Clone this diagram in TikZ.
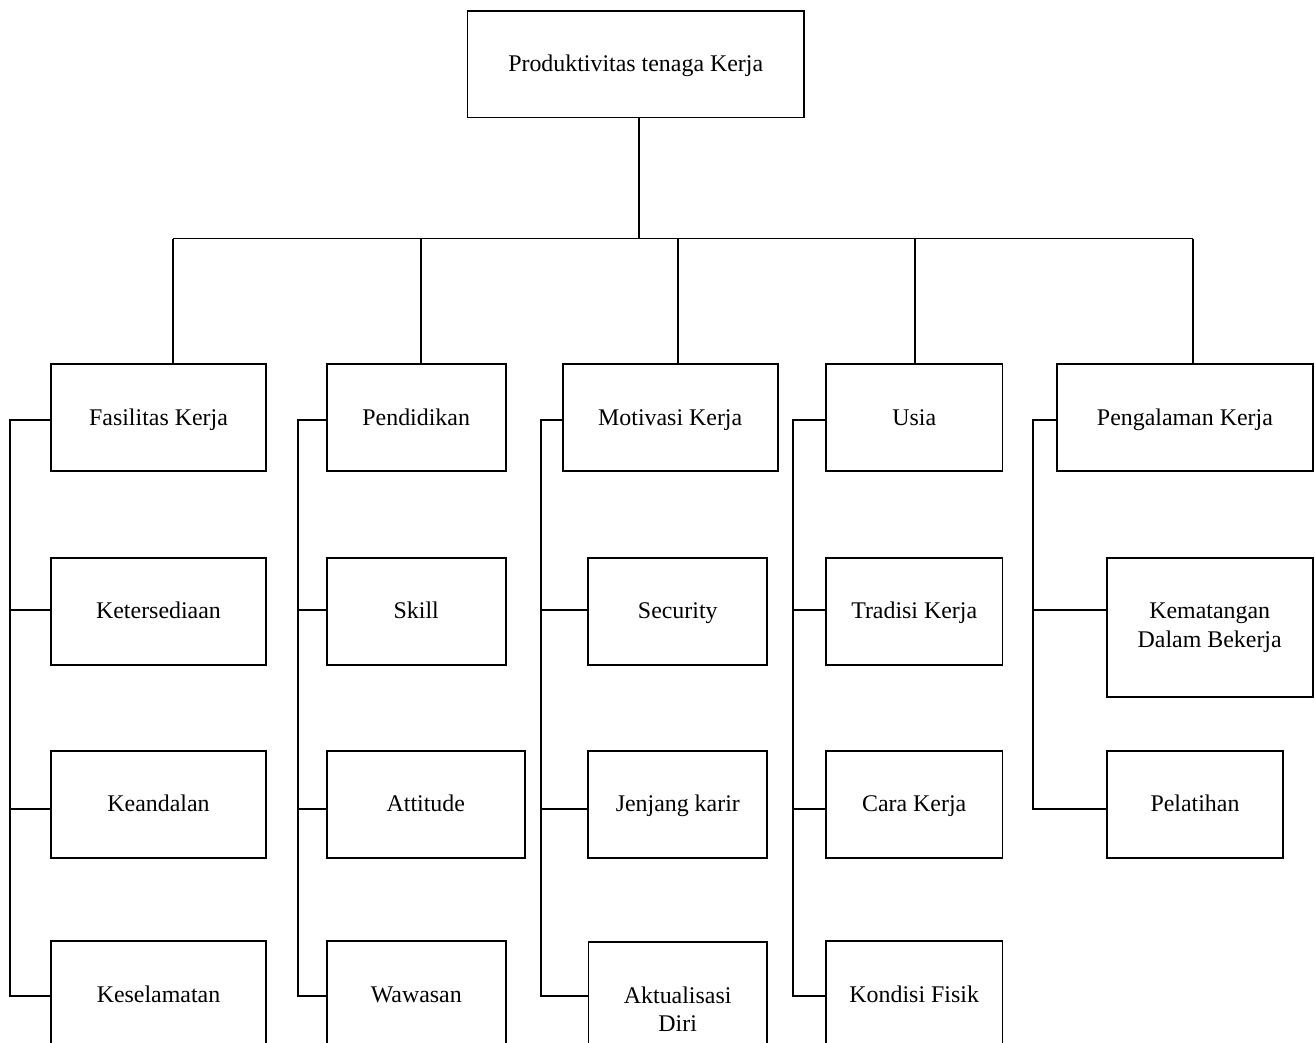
\documentclass[tikz,border=0pt]{standalone}
\usepackage{fontspec}
\setmainfont{Liberation Serif}
\newcommand\tstrut{\rule[-6pt]{0pt}{27pt}}
\begin{document}
\begin{tikzpicture}[x=1pt,y=-1pt,
  box/.style={draw, line width=1.7pt, inner sep=0pt, align=center,
    font=\fontsize{23.9}{28.5}\selectfont},
  wire/.style={line width=1.7pt, line join=miter}]
\clip (0,0) rectangle (1315,1042);
% top
\node[box, minimum width=336.7pt, minimum height=106.5pt] (top) at (635.7,64.25) {\tstrut Produktivitas tenaga Kerja};
% row 1
\node[box, minimum width=215pt, minimum height=106.4pt] (fas) at (158.5,417.5) {\tstrut Fasilitas Kerja};
\node[box, minimum width=179pt, minimum height=106.4pt] (pend) at (416.2,417.5) {\tstrut Pendidikan};
\node[box, minimum width=215pt, minimum height=106.4pt] (mot) at (670.2,417.5) {\tstrut Motivasi Kerja};
\node[box, minimum width=176.4pt, minimum height=106.4pt] (usia) at (914.2,417.5) {\tstrut Usia};
\node[box, minimum width=255.7pt, minimum height=106.4pt] (peng) at (1184.9,417.5) {\tstrut Pengalaman Kerja};
% row 2
\node[box, minimum width=215pt, minimum height=107pt] (ket) at (158.5,611.2) {\tstrut Ketersediaan};
\node[box, minimum width=179pt, minimum height=107pt] (skill) at (416.2,611.2) {\tstrut Skill};
\node[box, minimum width=179pt, minimum height=107pt] (sec) at (677.8,611.2) {\tstrut Security};
\node[box, minimum width=176.4pt, minimum height=107pt] (trad) at (914.2,611.2) {\tstrut Tradisi Kerja};
\node[box, minimum width=206pt, minimum height=139.6pt] (kem) at (1209.7,627.5) {\strut Kematangan\\\strut Dalam Bekerja};
% row 3
\node[box, minimum width=215pt, minimum height=107pt] (kea) at (158.5,804.2) {\tstrut Keandalan};
\node[box, minimum width=198.3pt, minimum height=107pt] (att) at (425.8,804.2) {\tstrut Attitude};
\node[box, minimum width=179pt, minimum height=107pt] (jen) at (677.8,804.2) {\tstrut Jenjang karir};
\node[box, minimum width=176.4pt, minimum height=107pt] (cara) at (914.2,804.2) {\tstrut Cara Kerja};
\node[box, minimum width=176.6pt, minimum height=107pt] (pel) at (1195,804.2) {\tstrut Pelatihan};
% row 4
\node[box, minimum width=215pt, minimum height=107pt] (kes) at (158.5,994.5) {\tstrut Keselamatan};
\node[box, minimum width=179.3pt, minimum height=107pt] (waw) at (416.3,994.5) {\tstrut Wawasan};
\node[box, minimum width=178.7pt, minimum height=140pt] (akt) at (677.7,1012) {\strut Aktualisasi\\\strut Diri};
\node[box, minimum width=176.4pt, minimum height=107pt] (kon) at (914.2,994.5) {\tstrut Kondisi Fisik};
% bus coordinates
\coordinate (t) at (639.3,238.5);
\coordinate (d1) at (173.3,238.5);
\coordinate (d2) at (420.7,238.5);
\coordinate (d3) at (678.3,238.5);
\coordinate (d4) at (915,238.5);
\coordinate (d5) at (1193.3,238.5);
% spine coordinates
\coordinate (s1) at (10,0);
\coordinate (s2) at (297.7,0);
\coordinate (s3) at (541.3,0);
\coordinate (s4) at (792.7,0);
\coordinate (s5) at (1033.3,0);
% branch rows
\coordinate (r1) at (0,420);
\coordinate (r2) at (0,610.3);
\coordinate (r3) at (0,809.3);
\coordinate (r4) at (0,996);
% top connectors
\draw[wire] (t |- top.south) -- (t);
\draw[wire] (d1) -- (d5);
\draw[wire] (d1) -- (d1 |- fas.north);
\draw[wire] (d2) -- (d2 |- pend.north);
\draw[wire] (d3) -- (d3 |- mot.north);
\draw[wire] (d4) -- (d4 |- usia.north);
\draw[wire] (d5) -- (d5 |- peng.north);
% column 1
\draw[wire] (fas.west |- r1) -- (s1 |- r1) -- (s1 |- r4) -- (kes.west |- r4);
\draw[wire] (s1 |- r2) -- (ket.west |- r2);
\draw[wire] (s1 |- r3) -- (kea.west |- r3);
% column 2
\draw[wire] (pend.west |- r1) -- (s2 |- r1) -- (s2 |- r4) -- (waw.west |- r4);
\draw[wire] (s2 |- r2) -- (skill.west |- r2);
\draw[wire] (s2 |- r3) -- (att.west |- r3);
% column 3
\draw[wire] (mot.west |- r1) -- (s3 |- r1) -- (s3 |- r4) -- (akt.west |- r4);
\draw[wire] (s3 |- r2) -- (sec.west |- r2);
\draw[wire] (s3 |- r3) -- (jen.west |- r3);
% column 4
\draw[wire] (usia.west |- r1) -- (s4 |- r1) -- (s4 |- r4) -- (kon.west |- r4);
\draw[wire] (s4 |- r2) -- (trad.west |- r2);
\draw[wire] (s4 |- r3) -- (cara.west |- r3);
% column 5
\draw[wire] (peng.west |- r1) -- (s5 |- r1) -- (s5 |- r3) -- (pel.west |- r3);
\draw[wire] (s5 |- r2) -- (kem.west |- r2);
\end{tikzpicture}
\end{document}
